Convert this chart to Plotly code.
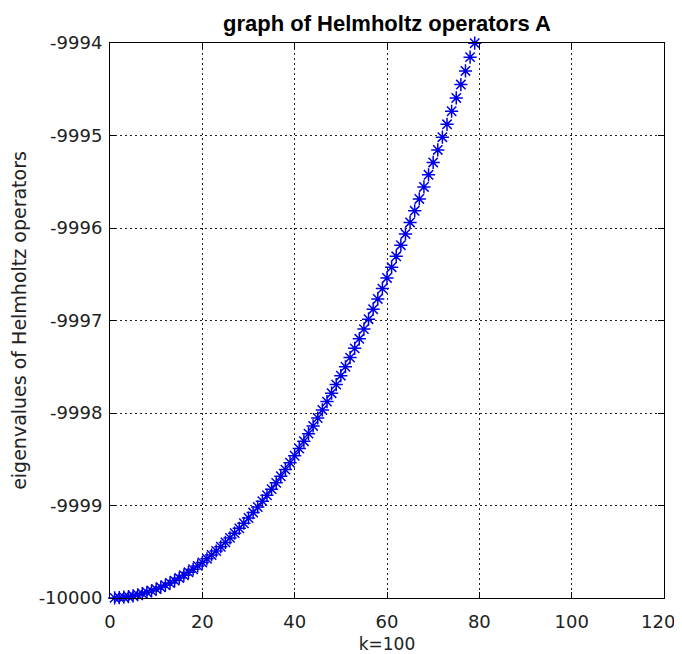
import plotly.graph_objects as go

# index k of each eigenvalue
k_index = list(range(1, 80))

# eigenvalues (k = 1 .. 79)
eigenvalues = [
    -9999.999, -9999.996, -9999.991, -9999.985, -9999.976,
    -9999.965, -9999.953, -9999.938, -9999.922, -9999.904,
    -9999.884, -9999.862, -9999.838, -9999.812, -9999.784,
    -9999.754, -9999.722, -9999.689, -9999.653, -9999.616,
    -9999.576, -9999.535, -9999.492, -9999.446, -9999.399,
    -9999.350, -9999.299, -9999.247, -9999.192, -9999.135,
    -9999.076, -9999.016, -9998.953, -9998.889, -9998.823,
    -9998.755, -9998.684, -9998.612, -9998.538, -9998.462,
    -9998.385, -9998.305, -9998.223, -9998.140, -9998.054,
    -9997.967, -9997.877, -9997.786, -9997.693, -9997.597,
    -9997.500, -9997.401, -9997.301, -9997.198, -9997.093,
    -9996.986, -9996.878, -9996.767, -9996.655, -9996.540,
    -9996.424, -9996.306, -9996.186, -9996.064, -9995.940,
    -9995.814, -9995.686, -9995.556, -9995.425, -9995.291,
    -9995.156, -9995.018, -9994.879, -9994.738, -9994.594,
    -9994.449, -9994.302, -9994.153, -9994.002,
]

x_ticks = [0, 20, 40, 60, 80, 100, 120]
x_tick_labels = ["0", "20", "40", "60", "80", "100", "120"]
y_ticks = [-10000, -9999, -9998, -9997, -9996, -9995, -9994]
y_tick_labels = ["-10000", "-9999", "-9998", "-9997", "-9996", "-9995", "-9994"]

title_text = "graph of Helmholtz operators A"
x_title = "k=100"
y_title = "eigenvalues of Helmholtz operators"

# like MATLAB, keep the last x label inside the figure by nudging it left
x_tick_text = x_tick_labels[:-1] + [x_tick_labels[-1] + "\u00a0\u00a0"]

fig = go.Figure()
fig.add_trace(go.Scatter(
    x=k_index, y=eigenvalues,
    mode="markers",
    marker=dict(symbol="asterisk-open", size=11,
                line=dict(color="#0000e6", width=1.5), color="#0000e6"),
    cliponaxis=False,
    showlegend=False,
))

axis_common = dict(
    showline=True, linecolor="black", linewidth=1, mirror="allticks",
    ticks="inside", ticklen=6, tickcolor="black", tickwidth=1,
    showgrid=True, gridcolor="#222222", gridwidth=1, griddash="2px,3px",
    zeroline=False, automargin=False, ticklabeloverflow="allow",
    tickfont=dict(family="DejaVu Sans", size=18, color="#222222"),
)

fig.update_xaxes(
    range=[0, 120], tickvals=x_ticks, ticktext=x_tick_text,
    ticklabelstandoff=7,
    title=dict(text=x_title, standoff=11,
               font=dict(family="DejaVu Sans", size=17, color="#222222")),
    **axis_common,
)
fig.update_yaxes(
    range=[-10000, -9994], tickvals=y_ticks, ticktext=y_tick_labels,
    ticklabelstandoff=3,
    title=dict(text=y_title, standoff=22,
               font=dict(family="DejaVu Sans", size=19, color="#222222")),
    **axis_common,
)

# the page body adds an 8px offset; size and margins compensate for it
fig.update_layout(
    width=674, height=646,
    margin=dict(l=102, r=18, t=35, b=56),
    paper_bgcolor="white", plot_bgcolor="white",
    title=dict(text="<b>" + title_text + "</b>", x=0.5, xref="paper",
               y=1 - 15 / 646, yref="container", yanchor="middle",
               font=dict(family="Liberation Sans", size=22, color="black")),
)

fig.write_html("out.html")
